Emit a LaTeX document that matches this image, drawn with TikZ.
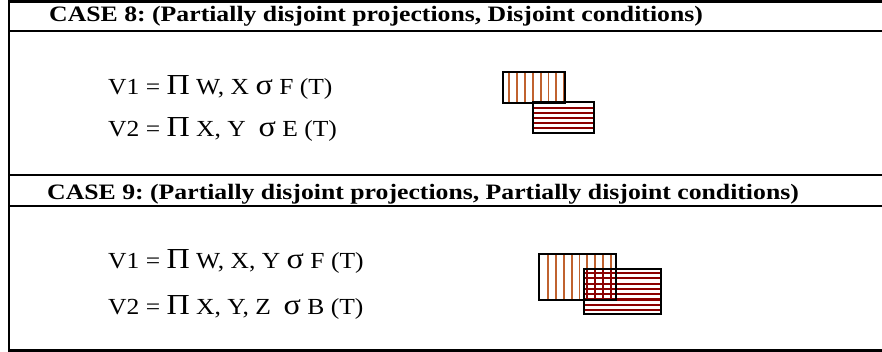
\documentclass[tikz,border=0pt]{standalone}
\usepackage{fontspec}
\setmainfont{Liberation Serif}
\definecolor{vstripe}{RGB}{192,98,47}
\definecolor{hstripe}{RGB}{139,0,0}
\tikzset{
  rule/.style={line width=2.2pt, black},
  head/.style={anchor=base west, inner sep=0pt, font=\fontsize{22}{22}\selectfont\bfseries},
  formula/.style={anchor=base west, inner sep=0pt, font=\fontsize{23}{23}\selectfont},
  boxline/.style={line width=2.2pt, black},
  vs/.style={vstripe, line width=1.8pt},
  hs/.style={hstripe, line width=2.2pt}
}
\newcommand{\bigsym}[1]{{\fontsize{29}{29}\selectfont #1}}
\newcommand{\hstretch}[1]{\scalebox{1.17}[1]{\frenchspacing #1}}
\newcommand{\fstretch}[1]{\scalebox{1.11}[1]{#1}}
\begin{document}
\begin{tikzpicture}[x=1pt,y=-1pt]
\useasboundingbox (0,0) rectangle (882,352);
% table rules
\draw[rule] (8,1.5) -- (890,1.5);
\draw[rule] (8,31) -- (890,31);
\draw[rule] (8,175) -- (890,175);
\draw[rule] (8,206) -- (890,206);
\draw[rule] (8,350.5) -- (890,350.5);
\draw[rule] (9,0.4) -- (9,351.6);
% headers
\node[head] (h8) at (49,21.7) {\hstretch{CASE 8: (Partially disjoint projections, Disjoint conditions)}};
\node[head] (h9) at (47,200) {\hstretch{CASE 9: (Partially disjoint projections, Partially disjoint conditions)}};
% formulas
\node[formula] (c8v1) at (108,95) {\fstretch{V1 = \bigsym{Π} W, X \bigsym{σ} F (T)}};
\node[formula] (c8v2) at (108,137) {\fstretch{V2 = \bigsym{Π} X, Y \ \bigsym{σ} E (T)}};
\node[formula] (c9v1) at (108,269) {\fstretch{V1 = \bigsym{Π} W, X, Y \bigsym{σ} F (T)}};
\node[formula] (c9v2) at (108,314) {\fstretch{V2 = \bigsym{Π} X, Y, Z \ \bigsym{σ} B (T)}};
% case 8 boxes
\begin{scope}
  \clip (503.3,72.3) rectangle (565,102.7);
  \foreach \i in {0,...,7} {\draw[vs] (509.3+7.83*\i,60) -- (509.3+7.83*\i,110);}
\end{scope}
\begin{scope}
  \clip (533.3,102.3) rectangle (594.3,132.7);
  \foreach \i in {0,...,5} {\draw[hs] (520,107.7+5*\i) -- (600,107.7+5*\i);}
\end{scope}
\draw[boxline] (503.3,72.3) rectangle (565,102.7);
\draw[boxline] (533.3,102.3) rectangle (594.3,132.7);
% case 9 boxes
\begin{scope}
  \clip (539.3,254) rectangle (615.7,300);
  \foreach \i in {0,...,8} {\draw[vs] (548.3+7.8*\i,240) -- (548.3+7.8*\i,310);}
\end{scope}
\begin{scope}
  \clip (584.3,269) rectangle (660.7,314.3);
  \foreach \i in {0,...,8} {\draw[hs] (570,273+5.3*\i) -- (670,273+5.3*\i);}
\end{scope}
\begin{scope}
  \clip (584.3,269) rectangle (615.7,300);
  \foreach \i in {0,...,8} {\draw[hstripe, line width=1.8pt] (548.3+7.8*\i,240) -- (548.3+7.8*\i,310);}
\end{scope}
\draw[boxline] (539.3,254) rectangle (615.7,300);
\draw[boxline] (584.3,269) rectangle (660.7,314.3);
\end{tikzpicture}
\end{document}
